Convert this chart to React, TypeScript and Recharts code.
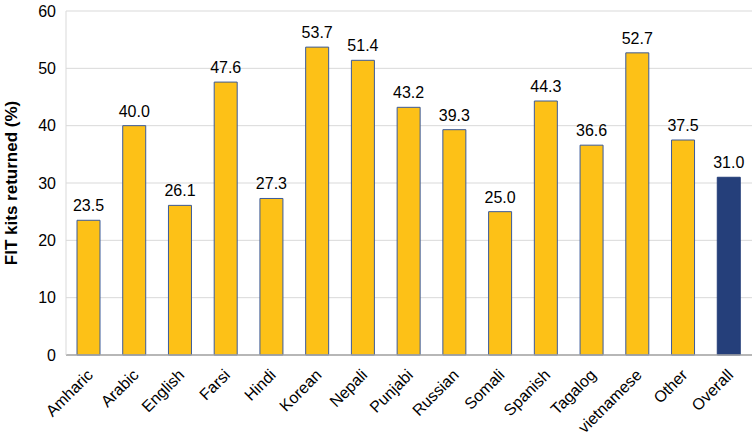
import { BarChart, Bar, XAxis, YAxis, CartesianGrid, Cell, LabelList } from 'recharts'

const LANGUAGES = [
  'Amharic', 'Arabic', 'English', 'Farsi', 'Hindi', 'Korean', 'Nepali', 'Punjabi',
  'Russian', 'Somali', 'Spanish', 'Tagalog', 'vietnamese', 'Other', 'Overall',
]
const RETURNED = [23.5, 40.0, 26.1, 47.6, 27.3, 53.7, 51.4, 43.2, 39.3, 25.0, 44.3, 36.6, 52.7, 37.5, 31.0]
const Y_TICKS = [0, 10, 20, 30, 40, 50, 60]

const data = LANGUAGES.map((lang, i) => ({ lang, value: RETURNED[i] }))

const FONT = '"Liberation Sans", Arial, sans-serif'
const GOLD = '#FDC117'
const NAVY = '#253F7A'
const EDGE = '#3B5A9A'

function LangTick({ x, y, payload }: any) {
  const ax = x - 3
  const ay = y + 5
  return (
    <text
      x={ax}
      y={ay}
      transform={`rotate(-45, ${ax}, ${ay})`}
      textAnchor="end"
      dy="0.71em"
      fontSize={16}
      fill="#000"
      fontFamily={FONT}
    >
      {payload.value}
    </text>
  )
}

export default function App() {
  return (
    <div style={{ position: 'absolute', left: 0, top: 0, width: 756, height: 438, background: '#fff' }}>
      <BarChart
        width={756}
        height={438}
        data={data}
        margin={{ top: 11, right: 4, bottom: 0, left: 0 }}
      >
        <CartesianGrid vertical={false} stroke="#d9d9d9" />
        <XAxis
          dataKey="lang"
          interval={0}
          height={83}
          tick={<LangTick />}
          tickLine={false}
          axisLine={{ stroke: '#a6a6a6', strokeWidth: 1.5 }}
        />
        <YAxis
          domain={[0, 60]}
          ticks={Y_TICKS}
          width={66}
          tickLine={false}
          tickMargin={4}
          axisLine={{ stroke: '#d9d9d9' }}
          tick={{ fontSize: 16, fill: '#000', fontFamily: FONT }}
          label={{
            value: 'FIT kits returned (%)',
            angle: -90,
            position: 'insideLeft',
            offset: 11,
            style: { fontSize: 17, fontWeight: 'bold', fill: '#000', fontFamily: FONT, textAnchor: 'middle' },
          }}
        />
        <Bar dataKey="value" isAnimationActive={false} barSize={23} stroke={EDGE} strokeWidth={1}>
          {data.map((d) => (
            <Cell key={d.lang} fill={d.lang === 'Overall' ? NAVY : GOLD} stroke={d.lang === 'Overall' ? NAVY : EDGE} />
          ))}
          <LabelList
            dataKey="value"
            position="top"
            offset={9}
            formatter={(v: any) => Number(v).toFixed(1)}
            style={{ fontSize: 16, fill: '#000', fontFamily: FONT }}
          />
        </Bar>
      </BarChart>
    </div>
  )
}
